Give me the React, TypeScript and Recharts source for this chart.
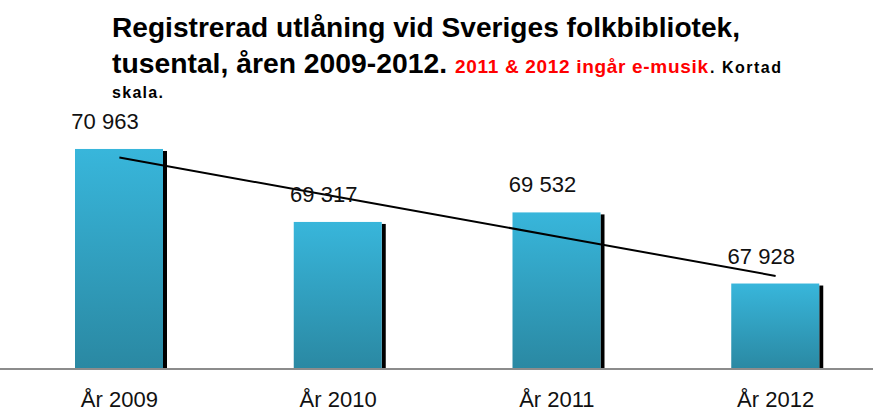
import { ComposedChart, Bar, Line, XAxis, YAxis, LabelList } from "recharts";

// Registrerad utlåning (tusental)
const years = ["År 2009", "År 2010", "År 2011", "År 2012"];
const loans = [70963, 69317, 69532, 67928];
// linear trend line, estimated at each category
const trend = [70770, 69880, 68990, 68100];

const data = years.map((year, i) => ({ year, loans: loans[i], trend: trend[i] }));

const FONT = '"Liberation Sans", Arial, sans-serif';

if (typeof document !== "undefined") document.body.style.margin = "0";

const fmt = (v: number) => String(v).replace(/\B(?=(\d{3})+(?!\d))/g, " ");

const ShadowBar = (props: any) => {
  const { x, y, width, height } = props;
  return (
    <g>
      <rect x={x + width} y={y + 2} width={4} height={height - 2} fill="#000" />
      <rect x={x} y={y} width={width} height={height + 1} fill="url(#barFill)" />
    </g>
  );
};

const ValueLabel = (props: any) => {
  const { x, y, width, value } = props;
  return (
    <text x={x + width / 2 - 14} y={y - 20} textAnchor="middle" fontSize={22} fontFamily={FONT} fill="#111">
      {fmt(value)}
    </text>
  );
};

const YearTick = ({ x, payload }: any) => (
  <text x={x} y={407} textAnchor="middle" fontSize={22} fontFamily={FONT} fill="#111">
    {payload.value}
  </text>
);

export default function App() {
  return (
    <div style={{ position: "relative", width: 873, height: 412, overflow: "hidden", background: "#fff" }}>
      <ComposedChart
        width={885}
        height={412}
        data={data}
        margin={{ top: 103, right: 0, bottom: 0, left: 0 }}
        barSize={88}
      >
        <defs>
          <linearGradient id="barFill" x1="0" y1="0" x2="0" y2="1">
            <stop offset="0%" stopColor="#38b6db" />
            <stop offset="100%" stopColor="#2a88a2" />
          </linearGradient>
        </defs>
        <XAxis
          dataKey="year"
          height={43}
          padding={{ left: 10, right: 0 }}
          tickLine={false}
          axisLine={{ stroke: "#8c8c8c", strokeWidth: 2 }}
          tick={<YearTick />}
        />
        <YAxis hide domain={[66000, 72000]} allowDataOverflow />
        <Bar dataKey="loans" shape={<ShadowBar />} isAnimationActive={false}>
          <LabelList dataKey="loans" content={<ValueLabel />} />
        </Bar>
        <Line
          dataKey="trend"
          stroke="#000"
          strokeWidth={2}
          dot={false}
          activeDot={false}
          isAnimationActive={false}
        />
      </ComposedChart>
      <svg width={873} height={110} style={{ position: "absolute", left: 0, top: 0 }}>
        <g fontFamily={FONT} fontWeight="bold">
          <text x={112} y={37} fontSize={27} fill="#000" textLength={628} lengthAdjust="spacingAndGlyphs">
            Registrerad utlåning vid Sveriges folkbibliotek,
          </text>
          <text x={112} y={73} fontSize={28} fill="#000" textLength={335} lengthAdjust="spacingAndGlyphs">
            tusental, åren 2009-2012.
          </text>
          <text x={455} y={73} fontSize={19} fill="#ff0000" textLength={253} lengthAdjust="spacing">
            2011 &amp; 2012 ingår e-musik
          </text>
          <text x={710} y={73} fontSize={16} fill="#000" textLength={71} lengthAdjust="spacing">
            . Kortad
          </text>
          <text x={112} y={98} fontSize={16} fill="#000" textLength={51} lengthAdjust="spacing">
            skala.
          </text>
        </g>
      </svg>
    </div>
  );
}
